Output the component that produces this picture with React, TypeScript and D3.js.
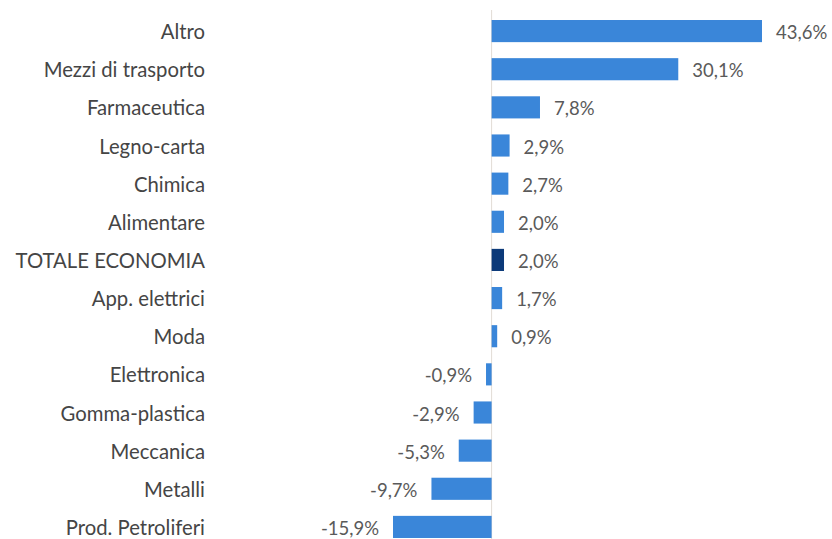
import React from "react";
import * as d3 from "d3";

const categories = [
  "Altro",
  "Mezzi di trasporto",
  "Farmaceutica",
  "Legno-carta",
  "Chimica",
  "Alimentare",
  "TOTALE ECONOMIA",
  "App. elettrici",
  "Moda",
  "Elettronica",
  "Gomma-plastica",
  "Meccanica",
  "Metalli",
  "Prod. Petroliferi",
];
const values = [43.6, 30.1, 7.8, 2.9, 2.7, 2.0, 2.0, 1.7, 0.9, -0.9, -2.9, -5.3, -9.7, -15.9];
const highlight = "TOTALE ECONOMIA";

const W = 832;
const H = 539;
const FONT = "Lato, 'Open Sans', sans-serif";

export default function App() {
  const x = d3.scaleLinear().domain([-15.9, 43.6]).range([393, 762]);
  const y = d3
    .scaleBand<string>()
    .domain(categories)
    .range([12, 546])
    .paddingInner(0.42)
    .paddingOuter(0.21);
  const fmt = (v: number) =>
    d3.format(".1f")(v).replace(".", ",").replace("\u2212", "-") + "%";
  const x0 = x(0);
  return (
    <svg
      width={W}
      height={H}
      style={{ position: "absolute", left: 0, top: 0, background: "#fff" }}
    >
      <line x1={x0} x2={x0} y1={10} y2={H} stroke="#e2dcd6" strokeWidth={1} />
      {categories.map((c, i) => {
        const v = values[i];
        const yc = y(c)! + y.bandwidth() / 2;
        const xs = Math.min(x(v), x0);
        const w = Math.abs(x(v) - x0);
        return (
          <g key={c}>
            <rect
              x={xs}
              y={y(c)!}
              width={Math.max(w, 1)}
              height={y.bandwidth()}
              fill={c === highlight ? "#0c3a79" : "#3a86d9"}
            />
            <text
              x={205}
              y={yc}
              textAnchor="end"
              dominantBaseline="central"
              fontFamily={FONT}
              fontSize={20.3}
              fill="#454545"
            >
              {c}
            </text>
            <text
              x={v >= 0 ? x(v) + 14 : x(v) - 14}
              y={yc + 1}
              textAnchor={v >= 0 ? "start" : "end"}
              dominantBaseline="central"
              fontFamily={FONT}
              fontSize={18.5}
              fill="#5a5a5a"
            >
              {fmt(v)}
            </text>
          </g>
        );
      })}
    </svg>
  );
}
